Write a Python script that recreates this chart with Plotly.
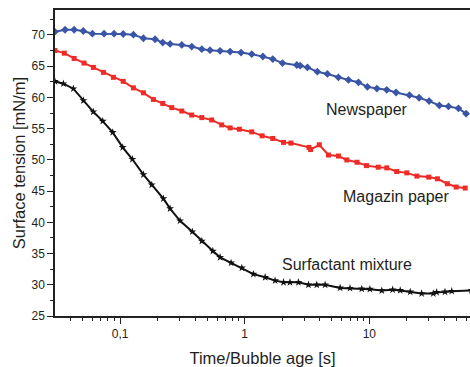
import plotly.graph_objects as go

# Surface tension vs. bubble age for three samples
news_t = [0.030, 0.0362, 0.0428, 0.0507, 0.060, 0.0744, 0.0895, 0.106, 0.128, 0.154, 0.191,
          0.220, 0.252, 0.313, 0.376, 0.453, 0.527, 0.635, 0.764, 0.935, 1.14, 1.40, 1.68,
          2.01, 2.62, 2.79, 3.19, 3.83, 4.61, 5.65, 6.80, 8.18, 9.66, 11.5, 13.8, 16.4,
          21.0, 25.1, 30.2, 36.5, 43.2, 51.9, 59.8]
news_st = [70.52, 70.84, 70.84, 70.64, 70.21, 70.21, 70.21, 70.16, 70.05, 69.48, 69.32,
           68.78, 68.57, 68.41, 68.14, 67.73, 67.57, 67.46, 67.35, 67.19, 66.93, 66.55, 66.14,
           65.50, 65.19, 65.08, 64.81, 64.12, 63.76, 63.22, 62.80, 62.42, 61.69, 61.42, 61.22,
           60.79, 60.36, 59.95, 59.41, 58.72, 58.56, 58.25, 57.40]

mag_t = [0.030, 0.0357, 0.0428, 0.0514, 0.0611, 0.0735, 0.0884, 0.106, 0.128, 0.154, 0.185,
         0.220, 0.260, 0.313, 0.376, 0.453, 0.544, 0.654, 0.764, 0.906, 1.14, 1.38, 1.68,
         2.05, 2.35, 3.28, 3.38, 3.97, 4.70, 5.65, 6.60, 7.97, 9.50, 11.8, 13.8, 16.6,
         20.0, 24.1, 30.0, 35.2, 42.3, 49.8, 58.8]
mag_st = [67.51, 67.09, 66.24, 65.50, 64.81, 64.01, 63.22, 62.58, 61.53, 60.74, 59.68,
          59.04, 58.36, 57.82, 57.18, 56.77, 56.39, 55.60, 55.12, 54.91, 54.48, 53.85, 53.43,
          52.80, 52.69, 52.00, 51.65, 52.42, 50.78, 50.62, 49.99, 49.62, 49.08, 48.83, 48.72,
          48.13, 47.92, 47.40, 47.24, 46.97, 46.18, 45.65, 45.49]

surf_t = [0.030, 0.0351, 0.0422, 0.0508, 0.061, 0.0726, 0.0873, 0.105, 0.1256, 0.154, 0.1796,
          0.2227, 0.252, 0.303, 0.380, 0.453, 0.555, 0.635, 0.778, 0.949, 1.175, 1.46, 1.754,
          2.05, 2.31, 2.70, 3.25, 3.79, 4.42, 5.83, 7.0, 8.7, 10.1, 12.6, 15.4, 17.7, 21.3,
          26.3, 32.6, 34.7, 40.5, 45.9, 66.0]
surf_st = [62.58, 62.20, 61.40, 59.50, 57.70, 56.20, 54.40, 52.00, 50.10, 47.65, 46.00,
           43.80, 42.20, 40.25, 38.50, 37.00, 35.40, 34.40, 33.50, 32.70, 31.70, 31.20, 30.66,
           30.40, 30.40, 30.40, 30.00, 30.00, 30.00, 29.50, 29.45, 29.35, 29.30, 29.07, 29.20,
           29.10, 28.86, 28.60, 28.60, 28.80, 28.86, 28.97, 29.10]

x_tick_vals = [0.1, 1, 10]
x_tick_text = ["0,1", "1", "10"]
y_tick_vals = [25, 30, 35, 40, 45, 50, 55, 60, 65, 70]

series_labels = ["Newspaper", "Magazin paper", "Surfactant mixture"]

FONT = "Liberation Sans, Arial, sans-serif"
TXT = "#231f20"

fig = go.Figure()
fig.add_trace(go.Scatter(
    x=news_t, y=news_st, mode="lines+markers", name=series_labels[0],
    line=dict(color="#3a55a5", width=2),
    marker=dict(symbol="diamond", size=6, color="#3a55a5"),
))
fig.add_trace(go.Scatter(
    x=mag_t, y=mag_st, mode="lines+markers", name=series_labels[1],
    line=dict(color="#ee2b27", width=2),
    marker=dict(symbol="square", size=5, color="#ee2b27"),
))
fig.add_trace(go.Scatter(
    x=surf_t, y=surf_st, mode="lines+markers", name=series_labels[2],
    line=dict(color="#111111", width=2),
    marker=dict(symbol="star", size=6, color="#111111"),
))

# series names written inside the plot area
for text, px, py in [(series_labels[0], 0.752, 0.676),
                     (series_labels[1], 0.824, 0.391),
                     (series_labels[2], 0.704, 0.168)]:
    fig.add_annotation(text=text, x=px, y=py, xref="paper", yref="paper",
                       showarrow=False, xanchor="center", yanchor="middle",
                       font=dict(family=FONT, size=16, color=TXT))

minor_x = [m * 10 ** e for e in (-2, -1, 0, 1) for m in range(2, 10)]

fig.update_xaxes(
    type="log", range=[-1.522, 1.808],
    tickvals=x_tick_vals, ticktext=x_tick_text,
    ticks="outside", ticklen=6, tickwidth=1.2, tickcolor="#222",
    minor=dict(tickvals=minor_x, ticks="outside", ticklen=3, tickwidth=1, tickcolor="#222"),
    showline=True, linecolor="#222", linewidth=1.5, mirror=True,
    showgrid=False, zeroline=False,
    tickfont=dict(family=FONT, size=12, color=TXT),
    title=dict(text="Time/Bubble age [s]", font=dict(family=FONT, size=16.5, color=TXT),
               standoff=14),
)
fig.update_yaxes(
    range=[25, 74], tickvals=y_tick_vals,
    ticks="outside", ticklen=6, tickwidth=1.2, tickcolor="#222",
    minor=dict(dtick=2.5, ticks="outside", ticklen=3, tickwidth=1, tickcolor="#222"),
    showline=True, linecolor="#222", linewidth=1.5, mirror=False,
    showgrid=False, zeroline=False,
    tickfont=dict(family=FONT, size=12, color=TXT),
    title=dict(text="Surface tension [mN/m]", font=dict(family=FONT, size=16.5, color=TXT),
               standoff=2),
)

fig.update_layout(
    width=470, height=367,
    margin=dict(l=55, r=0, t=10, b=49),
    paper_bgcolor="white", plot_bgcolor="white",
    showlegend=False,
)

fig.write_html("out.html")
